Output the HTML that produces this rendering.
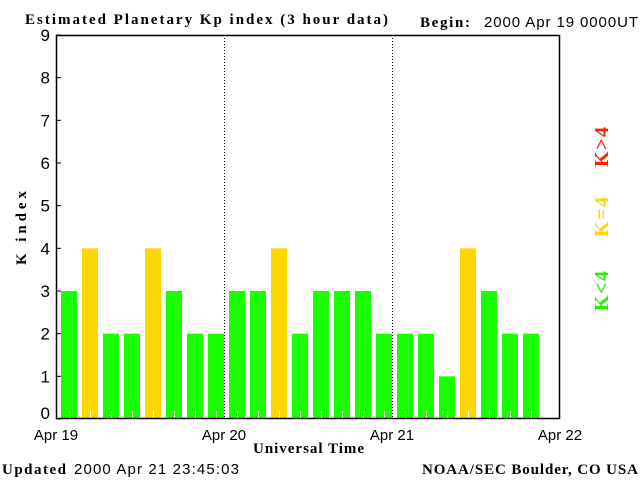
<!DOCTYPE html>
<html><head><meta charset="utf-8"><style>
body{margin:0;background:#fff;width:640px;height:480px;overflow:hidden}
svg{display:block}
.s{font-family:"Liberation Sans",sans-serif}
.b{font-family:"Liberation Serif",serif;font-weight:bold}
</style></head><body>
<svg id="c" width="640" height="480" xmlns="http://www.w3.org/2000/svg">
<text class="b" x="25" y="24" font-size="15" textLength="363" lengthAdjust="spacing">Estimated Planetary Kp index (3 hour data)</text>
<text class="b" x="420" y="27" font-size="15" textLength="50">Begin:</text>
<text class="s" x="484" y="27" font-size="15" textLength="154">2000 Apr 19 0000UT</text>
<text class="b" x="26" y="228" font-size="15" textLength="74" transform="rotate(-90 26 228)" text-anchor="middle">K index</text>
<text class="b" x="253" y="453" font-size="15" textLength="111">Universal Time</text>
<text class="b" x="2" y="474" font-size="15" textLength="64">Updated</text>
<text class="s" x="74" y="474" font-size="15" textLength="165">2000 Apr 21 23:45:03</text>
<text class="b" x="422" y="474" font-size="15" textLength="216">NOAA/SEC Boulder, CO USA</text>
<text class="b" x="608" y="147" font-size="20" fill="#ff2200" textLength="40" text-anchor="middle" transform="rotate(-90 608 147)">K&gt;4</text>
<text class="b" x="608" y="217" font-size="20" fill="#ffd700" textLength="40" text-anchor="middle" transform="rotate(-90 608 217)">K=4</text>
<text class="b" x="608" y="291" font-size="20" fill="#22ee00" textLength="40" text-anchor="middle" transform="rotate(-90 608 291)">K&lt;4</text>
<g id="plot"></g>
</svg>
<script>
const kpValues=[3,4,2,2,4,3,2,2, 3,3,4,2,3,3,3,2, 2,2,1,4,3,2,2];
const yTicks=[0,1,2,3,4,5,6,7,8,9];
const dayLabels=["Apr 19","Apr 20","Apr 21","Apr 22"];
const L=56,R=560,T=35,B=419,NS="http://www.w3.org/2000/svg";
const slots=24,sw=(R-L)/slots;
const y=v=>B-(v/9)*(B-T);
const x=i=>L+i*sw;
const g=document.getElementById('plot');
function mk(t,a){const e=document.createElementNS(NS,t);for(const k in a)e.setAttribute(k,a[k]);g.appendChild(e);return e;}
kpValues.forEach((v,i)=>{
 const col=v>4?'#ff2200':(v===4?'#ffd700':'#1aff00');
 const r=mk('rect',{x:x(i)+5,y:y(v),width:16,height:B-y(v),fill:col});
 
 
});
for(let i=0;i<slots;i++){
 const t=mk('line',{x1:x(i)+13.5,x2:x(i)+13.5,y1:B,y2:B-8,stroke:'#fff','stroke-width':1});
 
 
}
[1,2].forEach(d=>{
 const l=mk('line',{x1:L+d*168+0.5,x2:L+d*168+0.5,y1:T,y2:B,stroke:'#000','stroke-dasharray':'1,2'});
 
 
});
const fr=mk('rect',{x:L+0.5,y:T+0.5,width:R-L-1,height:B-T-1,fill:'none',stroke:'#000','stroke-width':1.5});


yTicks.forEach(v=>{
 const t=mk('line',{x1:L,x2:L+5,y1:y(v),y2:y(v),stroke:'#000'});
 
 
 const tx=mk('text',{x:L-6,y:Math.min(y(v)+6,B),'text-anchor':'end','font-size':17,class:'s'});
 tx.textContent=v;
 
 
});
dayLabels.forEach((d,i)=>{
 const tx=mk('text',{x:L+i*168,y:440,'text-anchor':'middle','font-size':15,class:'s'});
 tx.textContent=d;
 
 
});
</script>
</body></html>
